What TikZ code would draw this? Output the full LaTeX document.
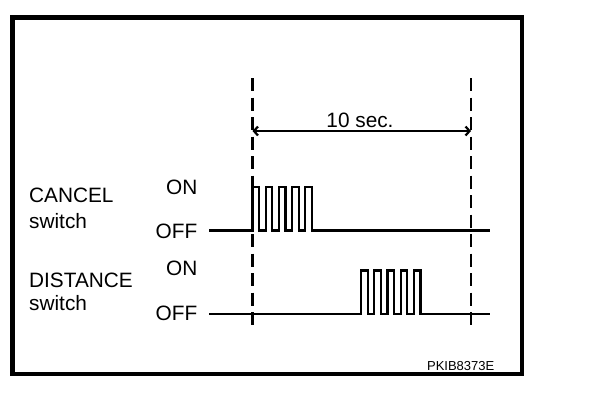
\documentclass[tikz,border=0pt]{standalone}
\usepackage{fontspec}
\setmainfont{Liberation Sans}
\usetikzlibrary{arrows.meta}
\begin{document}
\begin{tikzpicture}[x=1pt,y=-1pt,
  lbl/.style={inner sep=0pt,font=\fontsize{20.8}{24}\selectfont},
  code/.style={inner sep=0pt,font=\fontsize{13}{15}\selectfont},
  frame/.style={line width=4.5pt},
  sig/.style={line width=2.2pt,line join=miter},
  guide/.style={line width=2.2pt,dash pattern=on 13pt off 6.5pt},
  dim/.style={line width=2.2pt,{Straight Barb[length=4pt,width=9pt]}-{Straight Barb[length=4pt,width=9pt]}}]
\useasboundingbox (0,0) rectangle (608,416);
\draw[frame] (12.5,17.5) rectangle (522,374);
% guide lines
\coordinate (g1t) at (252.5,78);
\coordinate (g1b) at (252.5,326);
\coordinate (g2t) at (471,78);
\coordinate (g2b) at (471,326);
\draw[guide] (g1t) -- (g1b);
\draw[guide] (g2t) -- (g2b);
% dimension
\coordinate (a1) at (252.5,131);
\coordinate (a2) at (471,131);
\draw[dim] (a1) -- (a2);
\node[lbl,anchor=base] (ten) at (360,127) {10 sec.};
% labels
\node[lbl,anchor=base west] (cancel) at (29,202.3) {CANCEL};
\node[lbl,anchor=base west] (csw) at (29,228.3) {switch};
\node[lbl,anchor=base east] (con) at (197.5,194.3) {ON};
\node[lbl,anchor=base east] (coff) at (197.5,238.3) {OFF};
\node[lbl,anchor=base west] (dist) at (29,287.7) {DISTANCE};
\node[lbl,anchor=base west] (dsw) at (29,310.5) {switch};
\node[lbl,anchor=base east] (don) at (197.5,275.7) {ON};
\node[lbl,anchor=base east] (doff) at (197.5,320.5) {OFF};
\node[code,anchor=base east] (id) at (494.5,370) {PKIB8373E};
% signals
\coordinate (cs) at (209,230.5);
\coordinate (ce) at (490,230.5);
\draw[sig] (cs) -- (252.5,230.5) -- ++(0,-43.5)
  -- ++(6.6,0) -- ++(0,43.5) -- ++(6.6,0) -- ++(0,-43.5)
  -- ++(6.6,0) -- ++(0,43.5) -- ++(6.6,0) -- ++(0,-43.5)
  -- ++(6.6,0) -- ++(0,43.5) -- ++(6.6,0) -- ++(0,-43.5)
  -- ++(6.6,0) -- ++(0,43.5) -- ++(6.6,0) -- ++(0,-43.5)
  -- ++(6.6,0) -- ++(0,43.5) -- (ce);
\coordinate (ds) at (209,314);
\coordinate (de) at (490,314);
\draw[sig] (ds) -- (361,314) -- ++(0,-43.5)
  -- ++(6.6,0) -- ++(0,43.5) -- ++(6.6,0) -- ++(0,-43.5)
  -- ++(6.6,0) -- ++(0,43.5) -- ++(6.6,0) -- ++(0,-43.5)
  -- ++(6.6,0) -- ++(0,43.5) -- ++(6.6,0) -- ++(0,-43.5)
  -- ++(6.6,0) -- ++(0,43.5) -- ++(6.6,0) -- ++(0,-43.5)
  -- ++(6.6,0) -- ++(0,43.5) -- (de);
\end{tikzpicture}
\end{document}
